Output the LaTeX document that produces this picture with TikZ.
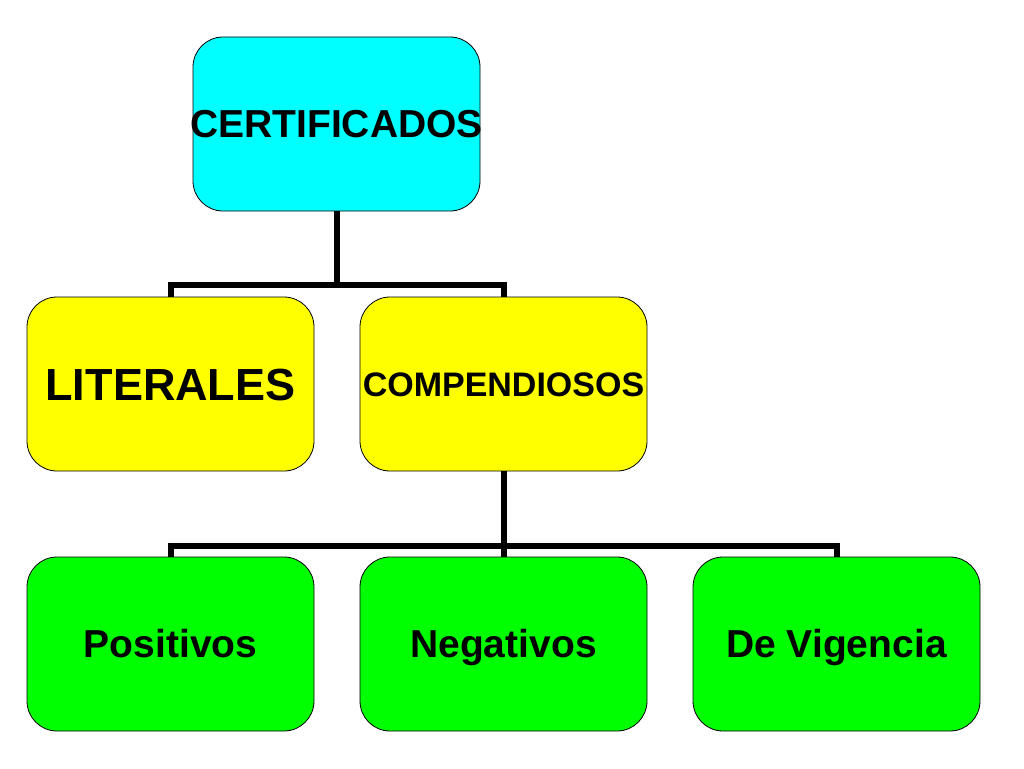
\documentclass[tikz,border=0pt]{standalone}
\usepackage{fontspec}
\setmainfont{Liberation Sans}
\begin{document}
\begin{tikzpicture}[x=1pt,y=-1pt,
  box/.style={draw=black,line width=0.8pt,rounded corners=30pt,minimum width=287pt,minimum height=174pt,inner sep=0pt,font=\bfseries\fontsize{#1}{#1}\selectfont,text height={0.716*#1pt},text depth=0pt},
  conn/.style={line width=6pt,line join=miter,draw=black}]
\useasboundingbox (0,0) rectangle (1024,768);
\definecolor{cyanbox}{RGB}{0,255,255}
\definecolor{yellowbox}{RGB}{255,255,0}
\definecolor{greenbox}{RGB}{0,255,0}
\node[box=39,fill=cyanbox] (cert) at (336.5,124) {\makebox[0pt]{CERTIFICADOS}};
\node[box=45,fill=yellowbox] (lit) at (170.5,384) {\makebox[0pt]{LITERALES}};
\node[box=34,fill=yellowbox] (comp) at (503.5,384) {\makebox[0pt]{COMPENDIOSOS}};
\node[box=39,fill=greenbox] (pos) at (170.5,644) {\makebox[0pt]{Positivos}};
\node[box=39,fill=greenbox] (neg) at (503.5,644) {\makebox[0pt]{Negativos}};
\node[box=39,fill=greenbox] (vig) at (836.5,644) {\makebox[0pt]{De Vigencia}};
\coordinate (j1) at (336.5,285);
\coordinate (j2) at (503.5,546);
\draw[conn] (cert.south) -- (j1);
\draw[conn] (lit.north) -- ++(0,-12) -| (comp.north);
\draw[conn] (comp.south) -- (neg.north);
\draw[conn] (pos.north) -- ++(0,-11) -| (vig.north);
\end{tikzpicture}
\end{document}
